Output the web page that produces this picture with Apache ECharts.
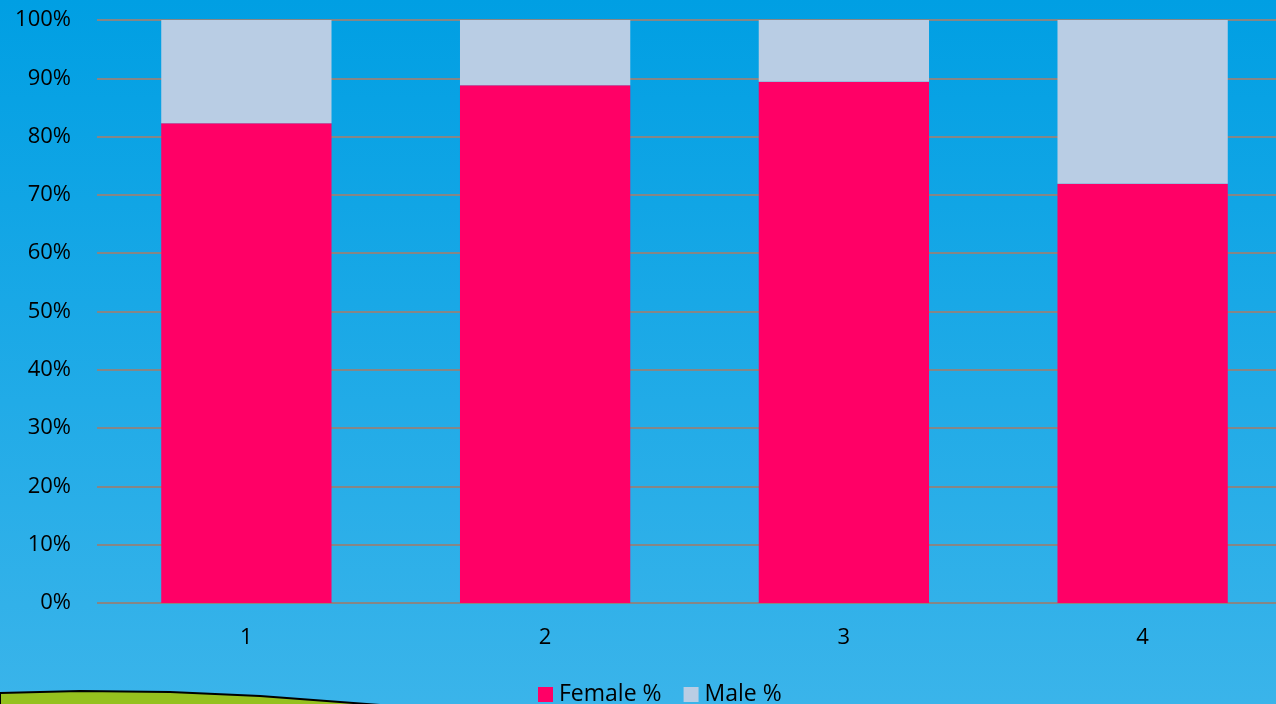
<!DOCTYPE html>
<html>
<head>
<meta charset="utf-8">
<script src="https://cdn.jsdelivr.net/npm/echarts@6/dist/echarts.min.js"></script>
<style>
  html, body { margin: 0; padding: 0; }
  #main { width: 1276px; height: 704px; background: linear-gradient(#009fe3, #3ab4ea); }
</style>
</head>
<body>
<div id="main"></div>
<script>
// chart data
var categories = ['1', '2', '3', '4'];
var femalePct = [82.3, 88.8, 89.4, 71.9];
var malePct = [17.7, 11.2, 10.6, 28.1];
var yTicks = [0, 10, 20, 30, 40, 50, 60, 70, 80, 90, 100];

var chartDom = document.getElementById('main');
var myChart = echarts.init(chartDom);
var option;

option = {
  backgroundColor: 'transparent',
  textStyle: { fontFamily: 'Open Sans' },
  animation: false,
  grid: { left: 97, width: 1195, top: 20, bottom: 101, outerBoundsMode: 'none', containLabel: false },
  legend: {
    bottom: -7,
    left: 533,
    icon: 'rect',
    itemWidth: 15,
    itemHeight: 15,
    itemGap: 22,
    textStyle: { fontSize: 23, color: '#000', padding: [0, 0, 0, 1] },
    data: ['Female %', 'Male %']
  },
  graphic: [
    {
      type: 'polygon',
      z: 0,
      shape: {
        points: [[0, 693], [80, 691], [170, 692], [260, 696], [380, 705], [380, 710], [0, 710]]
      },
      style: { fill: '#95c11f', stroke: '#000', lineWidth: 2 }
    }
  ],
  xAxis: {
    type: 'category',
    data: categories,
    axisLine: { show: false },
    axisTick: { show: false },
    axisLabel: { fontSize: 22, color: '#000', margin: 24 }
  },
  yAxis: {
    type: 'value',
    min: yTicks[0],
    max: yTicks[yTicks.length - 1],
    interval: 10,
    axisLine: { show: false },
    axisTick: { show: false },
    axisLabel: {
      fontSize: 22,
      color: '#000',
      margin: 26,
      formatter: function (v) { return v + '%'; }
    },
    splitLine: { lineStyle: { color: '#868686', width: 2 } }
  },
  series: [
    {
      name: 'Female %',
      type: 'bar',
      stack: 'total',
      barWidth: '57%',
      itemStyle: { color: '#ff0066' },
      data: femalePct
    },
    {
      name: 'Male %',
      type: 'bar',
      stack: 'total',
      itemStyle: { color: '#b9cde4' },
      data: malePct
    }
  ]
};

option && myChart.setOption(option);
</script>
</body>
</html>
